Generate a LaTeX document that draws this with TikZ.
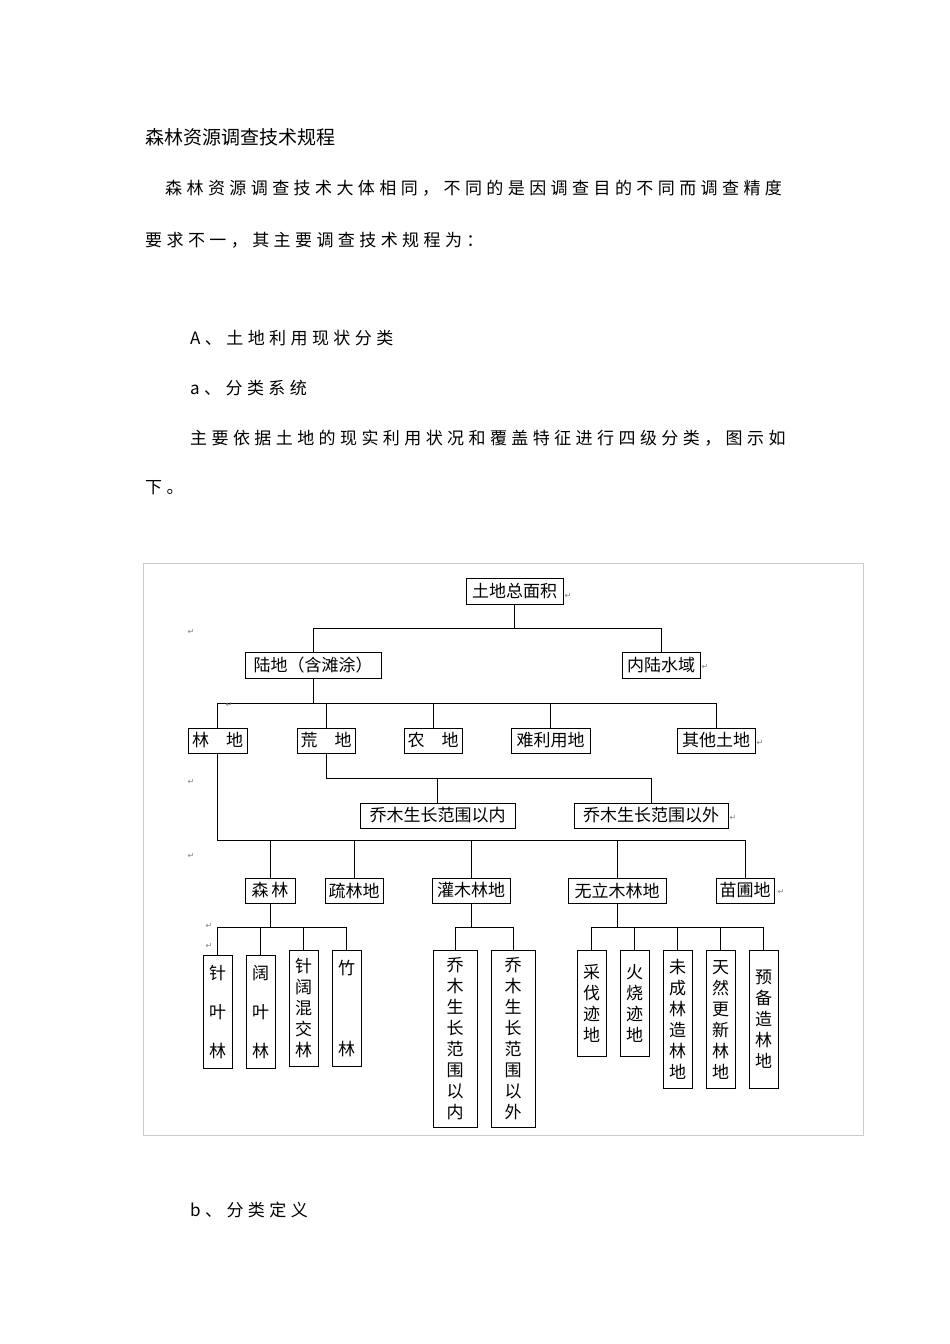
\documentclass[tikz,border=0pt]{standalone}
\usepackage{fontspec}
\newfontfamily\cjk{Noto Sans CJK SC}
\newfontfamily\cjks[LetterSpace=26]{Noto Sans CJK SC}
\newfontfamily\dv{DejaVu Sans}
\begin{document}
\begin{tikzpicture}[x=1pt,y=-1pt,
  txt/.style={anchor=west,inner sep=0,font=\cjks\fontsize{17}{20}\selectfont},
  bx/.style={draw,line width=1pt,inner sep=0,font=\cjk\fontsize{17}{20}\selectfont},
  vb/.style={draw,line width=1pt,anchor=north,minimum width=29,inner sep=0,text width=20,align=center,font=\cjk\fontsize{17}{21}\selectfont},
  ret/.style={inner sep=0,font=\dv\fontsize{8}{8}\selectfont,text=gray},
  ln/.style={line width=0.8pt}]
\useasboundingbox (0,0) rectangle (950,1344);
\fill[white] (0,0) rectangle (950,1344);
% texts
\node[anchor=west,inner sep=0,font=\cjk\fontsize{19}{22}\selectfont] (title) at (145,137) {森林资源调查技术规程};
\node[txt] (p1) at (165,188) {森林资源调查技术大体相同，不同的是因调查目的不同而调查精度};
\node[txt] (p2) at (145,240) {要求不一，其主要调查技术规程为：};
\node[txt] (p3) at (190,338) {A、土地利用现状分类};
\node[txt] (p4) at (190,388) {a、分类系统};
\node[txt] (p5) at (190,438) {主要依据土地的现实利用状况和覆盖特征进行四级分类，图示如};
\node[txt] (p6) at (145,488) {下。};
\node[txt] (p7) at (190,1210) {b、分类定义};
% frame
\draw[gray!40,line width=0.8pt] (143,563) rectangle (863,1135);
% boxes
\node[bx,minimum width=97,minimum height=26] (t) at (514.5,591) {土地总面积};
\node[bx,minimum width=136,minimum height=26] (ld) at (313,665) {陆地（含滩涂）};
\node[bx,minimum width=78,minimum height=26] (ns) at (661,665) {内陆水域};
\node[bx,minimum width=59,minimum height=25] (lin) at (217.5,740.5) {林\quad 地};
\node[bx,minimum width=58,minimum height=25] (hu) at (326,740.5) {荒\quad 地};
\node[bx,minimum width=58,minimum height=25] (no) at (433,740.5) {农\quad 地};
\node[bx,minimum width=79,minimum height=25] (na) at (550.5,740.5) {难利用地};
\node[bx,minimum width=78,minimum height=25] (qt) at (716,740.5) {其他土地};
\node[bx,minimum width=155,minimum height=25] (in) at (437.5,815.5) {乔木生长范围以内};
\node[bx,minimum width=154,minimum height=25] (out) at (651,815.5) {乔木生长范围以外};
\node[bx,minimum width=50,minimum height=25] (sl) at (270,890.5) {森\,林};
\node[bx,minimum width=58,minimum height=25] (sll) at (354,890.5) {疏林地};
\node[bx,minimum width=78,minimum height=25] (gm) at (471,890.5) {灌木林地};
\node[bx,minimum width=98,minimum height=25] (wl) at (617,890.5) {无立木林地};
\node[bx,minimum width=58,minimum height=25] (mp) at (745,890.5) {苗圃地};
% vertical boxes
\node[vb,minimum height=113] (v1) at (217.5,955) {针\\[18pt]叶\\[18pt]林};
\node[vb,minimum height=113] (v2) at (260.5,955) {阔\\[18pt]叶\\[18pt]林};
\node[vb,minimum height=116] (v3) at (303.5,950) {针\\阔\\混\\交\\林};
\node[vb,minimum height=116] (v4) at (346.5,950) {竹\\[60pt]林};
\node[vb,minimum height=177,minimum width=44] (v5) at (455,950) {乔\\木\\生\\长\\范\\围\\以\\内};
\node[vb,minimum height=177,minimum width=44] (v6) at (513,950) {乔\\木\\生\\长\\范\\围\\以\\外};
\node[vb,minimum height=106] (v7) at (591.5,950) {采\\伐\\迹\\地};
\node[vb,minimum height=106] (v8) at (634.5,950) {火\\烧\\迹\\地};
\node[vb,minimum height=138] (v9) at (677.5,950) {未\\成\\林\\造\\林\\地};
\node[vb,minimum height=138] (v10) at (720.5,950) {天\\然\\更\\新\\林\\地};
\node[vb,minimum height=138] (v11) at (763.5,950) {预\\备\\造\\林\\地};
% bar levels
\coordinate (b1) at (0,628);
\coordinate (b2) at (0,703);
\coordinate (b3) at (0,778);
\coordinate (b4) at (0,840);
\coordinate (b5) at (0,927);
% connectors
\draw[ln] (t.south) -- (t.south|-b1);
\draw[ln] (ld.north) -- (ld.north|-b1) -- (ns.north|-b1) -- (ns.north);
\draw[ln] (ld.south) -- (ld.south|-b2);
\draw[ln] (lin.north) -- (lin.north|-b2) -- (qt.north|-b2) -- (qt.north);
\foreach \n in {hu,no,na} \draw[ln] (\n.north) -- (\n.north|-b2);
\draw[ln] (hu.south) -- (hu.south|-b3) -- (out.north|-b3) -- (out.north);
\draw[ln] (in.north) -- (in.north|-b3);
\draw[ln] (lin.south) -- (lin.south|-b4) -- (mp.north|-b4) -- (mp.north);
\foreach \n in {sl,sll,gm,wl} \draw[ln] (\n.north) -- (\n.north|-b4);
\draw[ln] (sl.south) -- (sl.south|-b5);
\draw[ln] (v1.north) -- (v1.north|-b5) -- (v4.north|-b5) -- (v4.north);
\foreach \n in {v2,v3} \draw[ln] (\n.north) -- (\n.north|-b5);
\draw[ln] (gm.south) -- (gm.south|-b5);
\draw[ln] (v5.north) -- (v5.north|-b5) -- (v6.north|-b5) -- (v6.north);
\draw[ln] (wl.south) -- (wl.south|-b5);
\draw[ln] (v7.north) -- (v7.north|-b5) -- (v11.north|-b5) -- (v11.north);
\foreach \n in {v8,v9,v10} \draw[ln] (\n.north) -- (\n.north|-b5);
% return marks
\node[ret] (r1) at (568,596) {↵};
\node[ret] (r2) at (705,667) {↵};
\node[ret] (r3) at (760,743) {↵};
\node[ret] (r4) at (733,818) {↵};
\node[ret] (r5) at (781,892) {↵};
\node[ret] (r6) at (191,632) {↵};
\node[ret] (r7) at (191,782) {↵};
\node[ret] (r8) at (191,856) {↵};
\node[ret] (r9) at (209,926) {↵};
\node[ret] (r10) at (209,946) {↵};
\node[ret] (r11) at (229,705) {↵};
\end{tikzpicture}
\end{document}
